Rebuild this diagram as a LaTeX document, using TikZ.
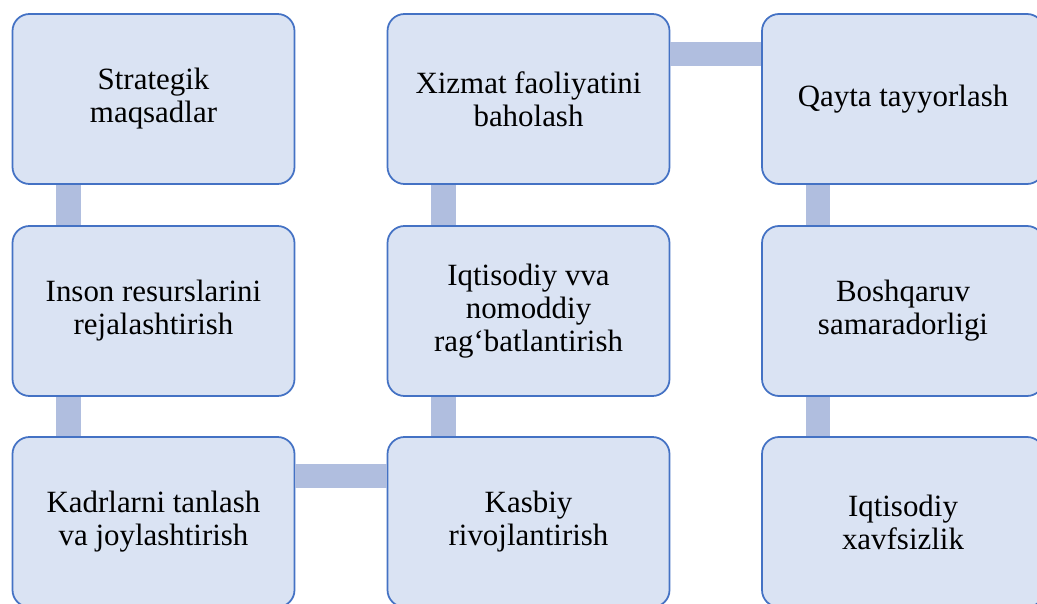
\documentclass[tikz,border=0pt]{standalone}
\usepackage{fontspec}
\setmainfont{Liberation Serif}
\usepackage{tikz}

\definecolor{boxfill}{HTML}{DAE3F3}
\definecolor{boxline}{HTML}{4472C4}
\definecolor{barfill}{HTML}{B0BEDF}

\tikzset{
  stage/.style={draw=boxline, fill=boxfill, line width=0.5pt,
    rounded corners=1.7mm, minimum width=2.82cm, minimum height=1.70cm,
    inner sep=0pt, align=center, font=\fontsize{8.8}{9.4}\selectfont},
  link/.style={draw=barfill, line width=2.45mm}
}

\begin{document}
\begin{tikzpicture}
        \useasboundingbox (0,0) rectangle (10.37,-6.04);
        % first column
        \node[stage] (strat) at (1.535,-0.99) {Strategik\\maqsadlar};
        \node[stage] (plan) at (1.535,-3.11) {Inson resurslarini\\rejalashtirish};
        \node[stage] (tanlash) at (1.535,-5.22) {Kadrlarni tanlash\\va joylashtirish};
        % second column
        \node[stage] (baho) at (5.285,-0.99) {Xizmat faoliyatini\\baholash};
        \node[stage] (rag) at (5.285,-3.11) {Iqtisodiy vva\\nomoddiy\\rag‘batlantirish};
        \node[stage] (kasb) at (5.285,-5.22) {Kasbiy\\rivojlantirish};
        % third column
        \node[stage] (qayta) at (9.03,-0.99) {Qayta tayyorlash};
        \node[stage] (samara) at (9.03,-3.11) {Boshqaruv\\samaradorligi};
        \node[stage] (xavf) at (9.03,-5.22) {Iqtisodiy\\xavfsizlik};
        % links
        \draw[link] ([xshift=5.7mm]strat.south west) -- ([xshift=5.7mm]plan.north west);
        \draw[link] ([xshift=5.7mm]plan.south west) -- ([xshift=5.7mm]tanlash.north west);
        \draw[link] ([yshift=-4mm]tanlash.north east) -- ([yshift=-4mm]kasb.north west);
        \draw[link] ([xshift=5.7mm]kasb.north west) -- ([xshift=5.7mm]rag.south west);
        \draw[link] ([xshift=5.7mm]rag.north west) -- ([xshift=5.7mm]baho.south west);
        \draw[link] ([yshift=-4.1mm]baho.north east) -- ([yshift=-4.1mm]qayta.north west);
        \draw[link] ([xshift=5.7mm]qayta.south west) -- ([xshift=5.7mm]samara.north west);
        \draw[link] ([xshift=5.7mm]samara.south west) -- ([xshift=5.7mm]xavf.north west);
      \end{tikzpicture}
\end{document}
